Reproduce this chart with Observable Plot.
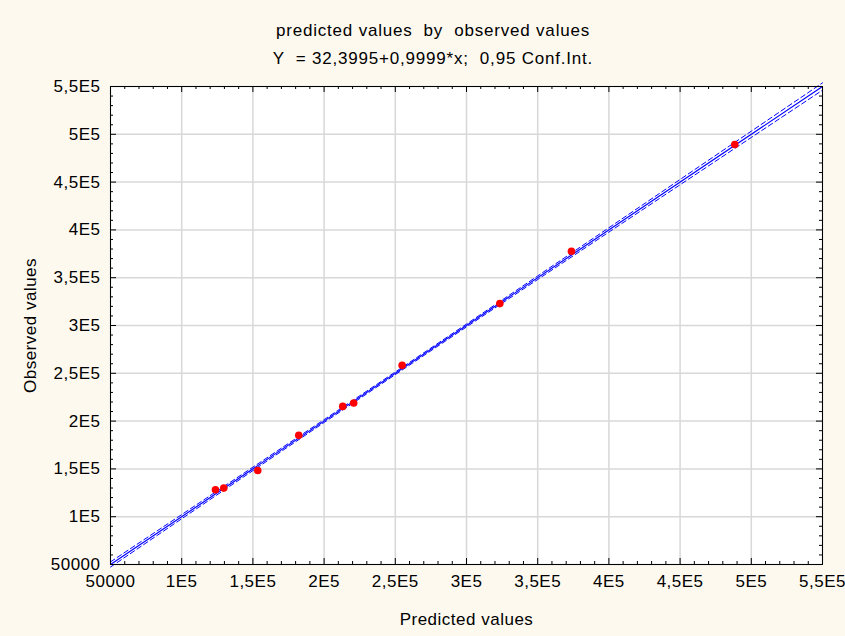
<!DOCTYPE html>
<html>
<head>
<meta charset="utf-8">
<script src="https://cdn.jsdelivr.net/npm/d3@7"></script>
<script src="https://cdn.jsdelivr.net/npm/@observablehq/plot@0.6"></script>
<style>
  html, body { margin: 0; padding: 0; background: #fdf9ef; }
  #wrap { position: relative; width: 845px; height: 636px; background: #fdf9ef; overflow: hidden;
          font-family: "Liberation Sans", Arial, sans-serif; color: #000; }
  .t { position: absolute; left: 21px; width: 824px; text-align: center; font-size: 17px; letter-spacing: 0.8px; white-space: pre; }
  #chart { position: absolute; left: 0; top: 72px; }
</style>
</head>
<body>
<div id="wrap">
  <div class="t" id="title" style="top:21px">predicted values  by  observed values</div>
  <div class="t" id="subtitle" style="top:49px">Y  = 32,3995+0,9999*x;  0,95 Conf.Int.</div>
  <div id="chart"></div>
</div>
<script>
// Observed data points (predicted, observed)
const predicted = [123700, 129550, 153400, 182200, 213100, 220800, 254800, 323400, 373700, 488400];
const observed  = [128200, 129900, 148400, 185100, 215400, 218900, 258300, 322900, 377700, 489400];

// Regression line Y = 32,3995 + 0,9999*x (end points)
const fitX = [50000, 550000];
const fitY = [50027.4, 549977.4];

// 0,95 confidence band half-widths
const bandX    = [50000, 100000, 150000, 200000, 250000, 300000, 350000, 400000, 450000, 500000, 550000];
const bandHalf = [2700, 2200, 1800, 1500, 1380, 1500, 1850, 2280, 2760, 3270, 3800];

// Axis ticks
const majorTicks = [50000, 100000, 150000, 200000, 250000, 300000, 350000, 400000, 450000, 500000, 550000];
const tickLabels = ["50000", "1E5", "1,5E5", "2E5", "2,5E5", "3E5", "3,5E5", "4E5", "4,5E5", "5E5", "5,5E5"];
const minorTicks = d3.range(50000, 550001, 10000).filter(v => v % 50000 !== 0);

const points = predicted.map((p, i) => ({x: p, y: observed[i]}));
const fit = fitX.map((x, i) => ({x, y: fitY[i]}));
const band = bandX.map((x, i) => {
  const yc = fitY[0] + (fitY[1] - fitY[0]) * (x - fitX[0]) / (fitX[1] - fitX[0]);
  return {x, lo: yc - bandHalf[i], hi: yc + bandHalf[i]};
});

const W = 845, H = 564, mt = 14, mb = 72, ml = 110, mr = 23;
const pw = W - ml - mr, ph = H - mt - mb;
const lbl = d => tickLabels[majorTicks.indexOf(d)];
const blue = "#0000ff";

const chart = Plot.plot({
  width: W, height: H,
  marginTop: mt, marginBottom: mb, marginLeft: ml, marginRight: mr,
  style: {background: "transparent", fontFamily: "'Liberation Sans', Arial, sans-serif", fontSize: "17px", letterSpacing: "0.5px", color: "#000"},
  x: {domain: [50000, 550000]},
  y: {domain: [50000, 550000]},
  marks: [
    Plot.frame({fill: "white", stroke: null}),
    Plot.gridX(majorTicks, {stroke: "#d8d8d8", strokeOpacity: 1, strokeWidth: 1.5}),
    Plot.gridY(majorTicks, {stroke: "#d8d8d8", strokeOpacity: 1, strokeWidth: 1.5}),
    Plot.line(band, {x: "x", y: "lo", stroke: blue, strokeWidth: 1, strokeDasharray: "5,3"}),
    Plot.line(band, {x: "x", y: "hi", stroke: blue, strokeWidth: 1, strokeDasharray: "5,3"}),
    Plot.line(fit, {x: "x", y: "y", stroke: blue, strokeWidth: 1.2}),
    Plot.dot(points, {x: "x", y: "y", r: 3.8, fill: "#ff0000", stroke: "none"}),
    Plot.frame({stroke: "#000", strokeWidth: 1}),
    // inward ticks on all four sides
    Plot.ruleX(majorTicks, {x: d => d, insetTop: ph - 6, stroke: "#000"}),
    Plot.ruleX(minorTicks, {x: d => d, insetTop: ph - 3, stroke: "#000"}),
    Plot.ruleX(majorTicks, {x: d => d, insetBottom: ph - 6, stroke: "#000"}),
    Plot.ruleX(minorTicks, {x: d => d, insetBottom: ph - 3, stroke: "#000"}),
    Plot.ruleY(majorTicks, {y: d => d, insetRight: pw - 6, stroke: "#000"}),
    Plot.ruleY(minorTicks, {y: d => d, insetRight: pw - 3, stroke: "#000"}),
    Plot.ruleY(majorTicks, {y: d => d, insetLeft: pw - 6, stroke: "#000"}),
    Plot.ruleY(minorTicks, {y: d => d, insetLeft: pw - 3, stroke: "#000"}),
    Plot.axisX(majorTicks, {anchor: "bottom", tickSize: 0, tickPadding: 10, tickFormat: lbl,
      label: "Predicted values", labelAnchor: "center", labelArrow: "none", labelOffset: 60}),
    Plot.axisY(majorTicks, {anchor: "left", tickSize: 0, tickPadding: 10, tickFormat: lbl,
      label: "Observed values", labelAnchor: "center", labelArrow: "none", labelOffset: 87})
  ]
});
document.getElementById("chart").appendChild(chart);
</script>
</body>
</html>
